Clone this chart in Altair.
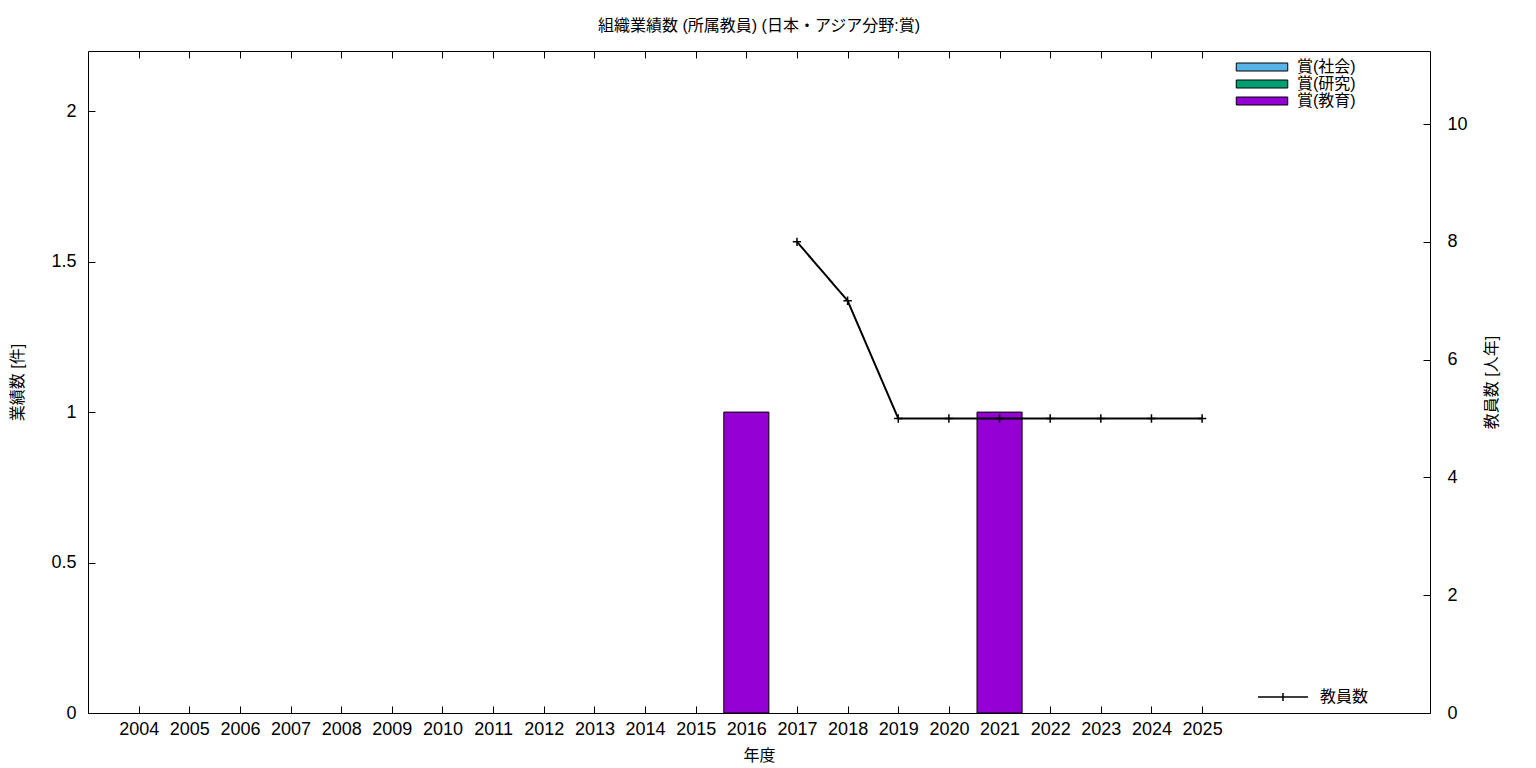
import altair as alt
import pandas as pd

# ---- data ----
years = list(range(2004, 2026))
award_social = [0] * 22
award_research = [0] * 22
award_education = [0, 0, 0, 0, 0, 0, 0, 0, 0, 0, 0, 0, 1, 0, 0, 0, 0, 1, 0, 0, 0, 0]
series_names = ["賞(社会)", "賞(研究)", "賞(教育)"]
series_colors = ["#56b4e9", "#009e73", "#9400d3"]

staff_years = [2017, 2018, 2019, 2020, 2021, 2022, 2023, 2024, 2025]
staff_counts = [8, 7, 5, 5, 5, 5, 5, 5, 5]

rows = []
for i, y in enumerate(years):
    for name, vals in zip(series_names, [award_social, award_research, award_education]):
        rows.append({"year": y, "series": name, "value": vals[i]})
bars_df = pd.DataFrame(rows)
staff_df = pd.DataFrame({"year": staff_years, "count": staff_counts, "s": "教員数"})

FONT = "Liberation Sans, Noto Sans CJK JP, sans-serif"
W, H = 1342, 662
xscale = alt.Scale(domain=[2003, 2029.5], nice=False, zero=False)

bars = alt.Chart(bars_df).transform_filter("datum.value > 0").transform_calculate(
    x0="datum.year - 0.445", x1="datum.year + 0.445"
).mark_bar(stroke="black", strokeWidth=1, opacity=1).encode(
    x=alt.X("x0:Q", scale=xscale, axis=alt.Axis(
        orient="bottom", values=years, format="d", offset=-7, tickSize=7, tickWidth=1,
        tickColor="black", domain=False, labelPadding=7, labelFontSize=18,
        title="年度", titleFontSize=16, titleFontWeight="normal", titlePadding=9)),
    x2="x1:Q",
    y=alt.Y("value:Q", scale=alt.Scale(domain=[0, 2.2], nice=False), axis=alt.Axis(
        orient="left", values=[0, 0.5, 1, 1.5, 2], format=".1~f", offset=-7, tickSize=7,
        tickColor="black", domain=False, labelPadding=12, labelFontSize=18,
        title="業績数 [件]", titleFontSize=16, titleFontWeight="normal", titlePadding=25)),
    y2=alt.datum(0),
    color=alt.Color("series:N", scale=alt.Scale(domain=series_names, range=series_colors),
        legend=alt.Legend(orient="none", legendX=1166, legendY=8, title=None,
            symbolType="M-5.15,-0.8H5.15V0.8H-5.15Z", symbolSize=100,
            symbolStrokeColor="black", symbolStrokeWidth=1, symbolOpacity=1,
            labelFontSize=16, labelOffset=27, rowPadding=1, padding=0)),
)

cross = "M-1,0H1M0,-1V1"
line = alt.Chart(staff_df).mark_line(
    color="black", strokeWidth=2,
    point=alt.OverlayMarkDef(shape=cross, filled=False, stroke="black", strokeWidth=1.5, size=70, opacity=1),
).encode(
    x=alt.X("year:Q", scale=xscale, axis=alt.Axis(
        orient="top", values=years, offset=-7, tickSize=7, tickColor="black",
        labels=False, domain=False, title=None)),
    y=alt.Y("count:Q", scale=alt.Scale(domain=[0, 11.24], nice=False), axis=alt.Axis(
        orient="right", values=[0, 2, 4, 6, 8, 10], format="d", offset=-7, tickSize=7,
        tickColor="black", domain=False, labelPadding=17, labelFontSize=18,
        title="教員数 [人年]", titleFontSize=16, titleFontWeight="normal", titlePadding=32,
        titleAngle=270)),
    strokeDash=alt.StrokeDash("s:N", scale=alt.Scale(domain=["教員数"], range=[[1, 0]]),
        legend=alt.Legend(orient="none", legendX=1187, legendY=638, title=None,
            symbolType="M-5,0H5M0,-0.8V0.8", symbolSize=100,
            symbolStrokeColor="black", symbolStrokeWidth=1.5, symbolFillColor="transparent",
            labelFontSize=16, labelOffset=29, padding=0)),
)

chart = alt.layer(bars, line).resolve_scale(
    y="independent", color="independent", strokeDash="independent"
).resolve_axis(x="independent", y="independent").properties(
    width=W, height=H,
    title=alt.TitleParams("組織業績数 (所属教員) (日本・アジア分野:賞)", fontSize=16,
                          fontWeight="normal", anchor="middle", offset=17, font=FONT),
    padding={"left": 80, "top": 43, "right": 90, "bottom": 50},
    autosize=alt.AutoSizeParams(type="none"),
).configure(font=FONT).configure_view(stroke="black", strokeWidth=1).configure_axis(
    grid=False, labelColor="black", titleColor="black", labelFont=FONT, titleFont=FONT
).configure_legend(labelFont=FONT, labelColor="black")

chart.save("out.html", embed_options={"renderer": "svg", "actions": False})
